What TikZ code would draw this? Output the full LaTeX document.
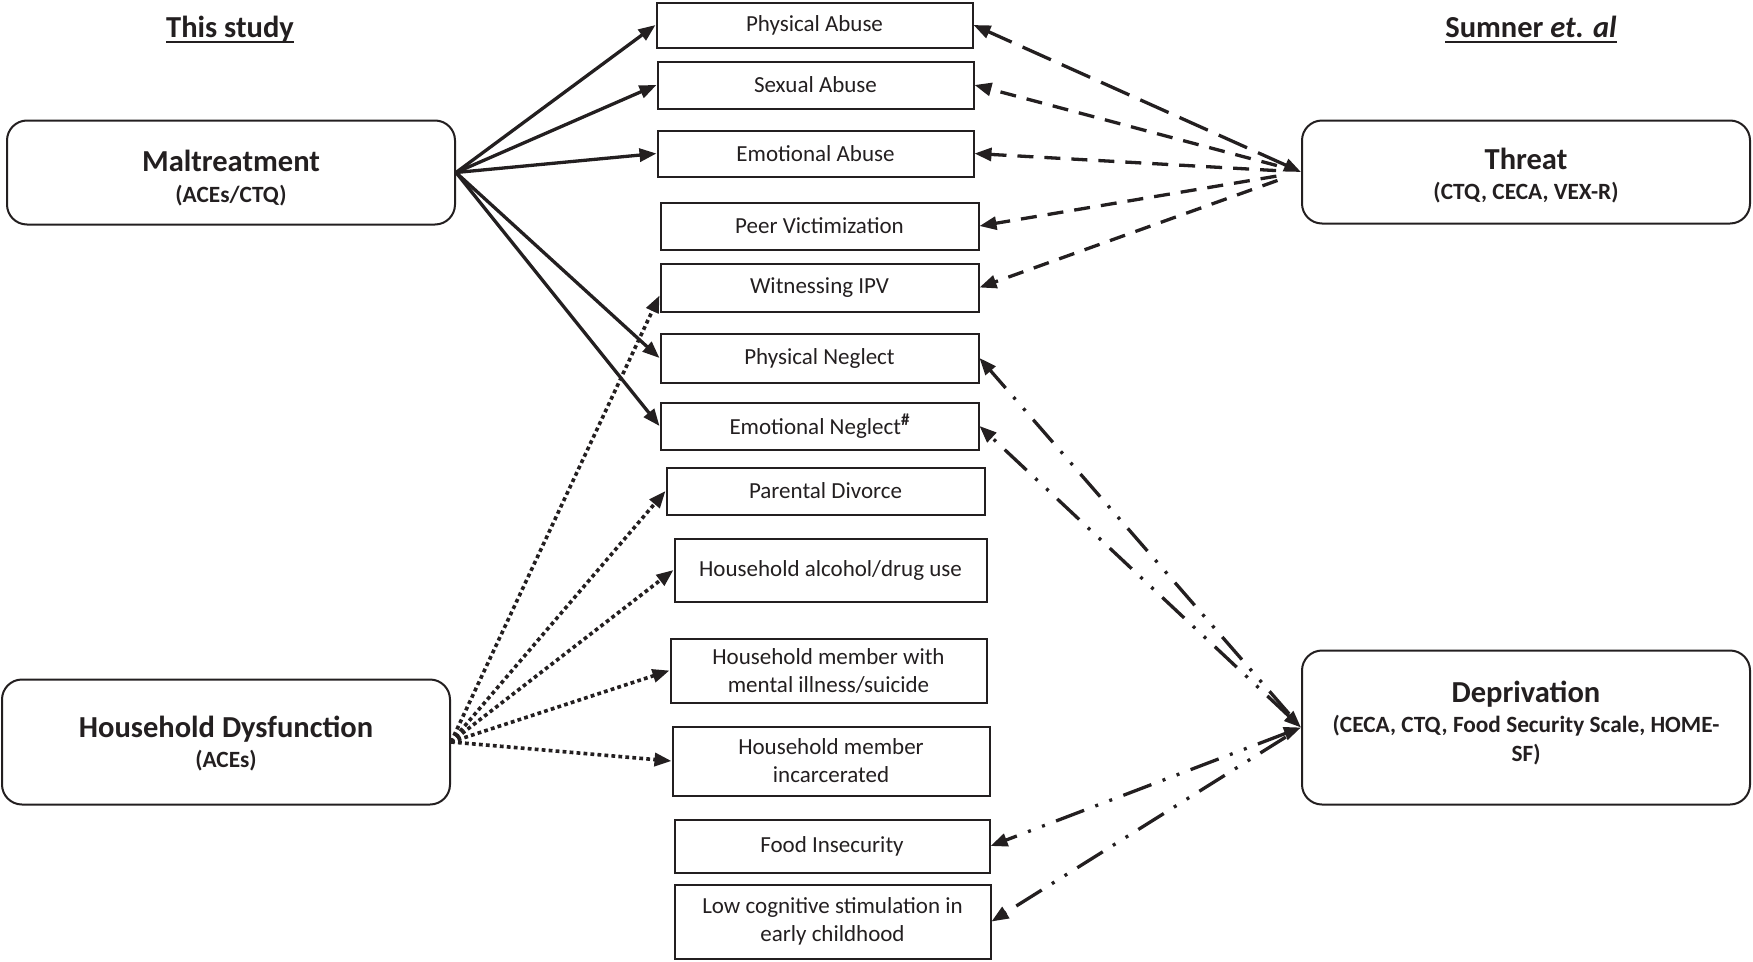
\documentclass[tikz,border=0pt]{standalone}
\usepackage{fontspec}
\setmainfont{Carlito}
\usetikzlibrary{arrows.meta}
\definecolor{ink}{RGB}{35,31,32}
\begin{document}
\begin{tikzpicture}[x=1pt,y=-1pt,
  >={Triangle[length=17pt,width=13pt]},
  ibox/.style={draw=ink, line width=2pt, inner sep=0pt, text=ink, align=center,
    font=\fontsize{23}{28}\selectfont},
  rbox/.style={draw=ink, line width=2pt, rounded corners=20pt, inner sep=0pt,
    minimum width=448pt},
  ttl/.style={font=\fontsize{30.5}{36}\selectfont\bfseries, text=ink, anchor=base, inner sep=0pt},
  sub/.style={font=\fontsize{23.3}{28}\selectfont\bfseries, text=ink, anchor=base, inner sep=0pt},
  conn/.style={line width=3.3pt, draw=ink, ->},
  solidconn/.style={conn},
  dotconn/.style={conn, line width=3.6pt, dash pattern=on 3.8pt off 3.2pt},
  shortdash/.style={conn, dash pattern=on 16pt off 11pt},
  longdash/.style={conn, dash pattern=on 31pt off 12pt},
  ddconn/.style={conn, dash pattern=on 30pt off 12pt on 3pt off 12pt on 3pt off 12pt},
  uline/.style={line width=2pt, draw=ink}]
\useasboundingbox (0,0) rectangle (1753,961);

% headers
\node[ttl] (hs) at (230,37) {This study};
\draw[uline] ([yshift=-5pt]hs.base west) -- ([yshift=-5pt]hs.base east);
\node[ttl] (hr) at (1531,37) {Sumner \textit{et. al}};
\draw[uline] ([yshift=-5pt]hr.base west) -- ([yshift=-5pt]hr.base east);

% left and right category boxes
\node[rbox, minimum height=104pt] (M) at (231,172.5) {};
\node[ttl] (Mt) at (231,171) {Maltreatment};
\node[sub] (Ms) at (231,202) {(ACEs/CTQ)};

\node[rbox, minimum height=125pt] (HD) at (226,742) {};
\node[ttl] (HDt) at (226,737) {Household Dysfunction};
\node[sub] (HDs) at (226,767) {(ACEs)};

\node[rbox, minimum height=103pt] (T) at (1526,172) {};
\node[ttl] (Tt) at (1526,169) {Threat};
\node[sub] (Ts) at (1526,199) {(CTQ, CECA, VEX-R)};

\node[rbox, minimum height=154pt] (D) at (1526,727.5) {};
\node[ttl] (Dt) at (1526,702) {Deprivation};
\node[sub] (Ds1) at (1526,732) {(CECA, CTQ, Food Security Scale, HOME-};
\node[sub] (Ds2) at (1526,761) {SF)};

% middle boxes
\node[ibox, minimum width=316pt, minimum height=45pt] (PA) at (814.5,25) {Physical Abuse};
\node[ibox, minimum width=316pt, minimum height=47pt] (SA) at (815.5,85) {Sexual Abuse};
\node[ibox, minimum width=316pt, minimum height=46pt] (EA) at (815.5,153.5) {Emotional Abuse};
\node[ibox, minimum width=318pt, minimum height=47pt] (PV) at (819.5,226) {Peer Victimization};
\node[ibox, minimum width=318pt, minimum height=48pt] (WI) at (819.5,287.5) {Witnessing IPV};
\node[ibox, minimum width=318pt, minimum height=49pt] (PN) at (819.5,358) {Physical Neglect};
\node[ibox, minimum width=318pt, minimum height=47pt] (EN) at (819.5,426) {Emotional Neglect\raisebox{9pt}{\fontsize{17}{17}\selectfont\bfseries\#}};
\node[ibox, minimum width=318pt, minimum height=47pt] (PD) at (825.5,491) {Parental Divorce};
\node[ibox, minimum width=312pt, minimum height=63pt] (HA) at (830.5,570) {Household alcohol/drug use};
\node[ibox, minimum width=316pt, minimum height=64pt] (HM) at (828.5,670.5) {Household member with\\mental illness/suicide};
\node[ibox, minimum width=317pt, minimum height=69pt] (HI) at (831,761) {Household member\\incarcerated};
\node[ibox, minimum width=315pt, minimum height=53pt] (FI) at (832,846) {Food Insecurity};
\node[ibox, minimum width=316pt, minimum height=74pt] (LC) at (832.5,921.5) {Low cognitive stimulation in\\early childhood};

% Maltreatment connectors
\draw[solidconn] (M.east) -- (PA.west);
\draw[solidconn] (M.east) -- (SA.west);
\draw[solidconn] (M.east) -- (EA.west);
\draw[solidconn] (M.east) -- (PN.west);
\draw[solidconn] (M.east) -- (EN.west);

% Household dysfunction connectors
\draw[dotconn] (HD.east) -- ([yshift=-8pt]WI.west);
\draw[dotconn] (HD.east) -- (PD.west);
\draw[dotconn] (HD.east) -- (HA.west);
\draw[dotconn] (HD.east) -- (HM.west);
\draw[dotconn] (HD.east) -- (HI.west);

% Threat connectors
\draw[longdash, <->] (T.west) -- (PA.east);
\draw[shortdash, shorten <=25pt] (T.west) -- (SA.east);
\draw[shortdash, shorten <=25pt] (T.west) -- (EA.east);
\draw[shortdash, shorten <=25pt] (T.west) -- (PV.east);
\draw[shortdash, shorten <=25pt] (T.west) -- (WI.east);

% Deprivation connectors
\draw[ddconn, shorten <=18pt] (D.west) -- (PN.east);
\draw[ddconn, <->] (D.west) -- (EN.east);
\draw[ddconn, <->] (D.west) -- (FI.east);
\draw[ddconn, shorten <=18pt] (D.west) -- (LC.east);
\end{tikzpicture}
\end{document}
